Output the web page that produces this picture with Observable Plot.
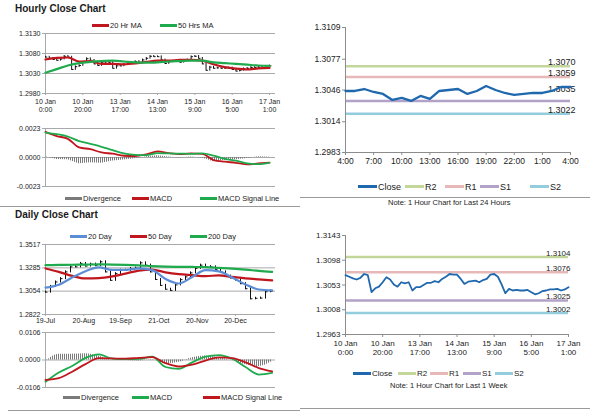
<!DOCTYPE html>
<html>
<head>
<meta charset="utf-8">
<script src="https://cdn.jsdelivr.net/npm/d3@7"></script>
<script src="https://cdn.jsdelivr.net/npm/@observablehq/plot@0.6"></script>
<style>
html,body{margin:0;padding:0;background:#fff;}
#root{position:relative;width:600px;height:413px;overflow:hidden;font-family:Arial,"Liberation Sans",sans-serif;color:#222;background:#fff;}
.t{position:absolute;white-space:nowrap;}
.title{font-weight:bold;font-size:10px;color:#1a1a1a;}
.note{font-size:7.5px;color:#222;}
.sep{position:absolute;height:1px;background:#9a9a9a;}
.li{position:absolute;display:flex;align-items:center;white-space:nowrap;color:#222;}
.li span{display:inline-block;margin-right:1px;}
</style>
</head>
<body>
<svg width="0" height="0" style="position:absolute"><defs>
<pattern id="hatch" patternUnits="userSpaceOnUse" width="2" height="4"><rect x="0" y="0" width="1" height="4" fill="#7a7a7a"/></pattern>
</defs></svg>
<div id="root"></div>
<script>
// ---------------- DATA ----------------
// hourly (last week), one value every 2 hours, index 0..120
const hourTickIdx = [0, 20, 40, 60, 80, 100, 120];
const hourTickLabels = ["10 Jan\n0:00", "10 Jan\n20:00", "13 Jan\n17:00", "14 Jan\n13:00", "15 Jan\n9:00", "16 Jan\n5:00", "17 Jan\n1:00"];
const weekClose = [1.3071,1.3068,1.3065,1.3063,1.3066,1.3073,1.3071,1.3040,1.3047,1.3050,
  1.3058,1.3067,1.3063,1.3054,1.3050,1.3058,1.3056,1.3058,1.3043,1.3049,
  1.3049,1.3053,1.3057,1.3057,1.3060,1.3058,1.3064,1.3068,1.3073,1.3072,
  1.3072,1.3064,1.3055,1.3059,1.3060,1.3061,1.3058,1.3062,1.3064,1.3072,
  1.3073,1.3068,1.3054,1.3038,1.3046,1.3043,1.3044,1.3043,1.3043,1.3044,
  1.3040,1.3036,1.3038,1.3042,1.3043,1.3045,1.3045,1.3046,1.3043,1.3045,1.3049];
// hourly indicators, one value every 6 hours
const ma20Hr = [1.3065,1.3069,1.3070,1.3060,1.3061,1.3054,1.3054,1.3053,1.3055,1.3059,1.3062,1.3062,1.3064,1.3064,1.3062,1.3053,1.3046,1.3042,1.3040,1.3043,1.3044];
const ma50Hr = [1.3032,1.3041,1.3050,1.3056,1.3059,1.3061,1.3062,1.3060,1.3058,1.3057,1.3058,1.3060,1.3061,1.3062,1.3062,1.3058,1.3056,1.3054,1.3052,1.3050,1.3049];
const macdHr = [0.00203,0.00170,0.00148,0.00080,0.00066,0.00040,0.00030,0.00014,0.00012,0.00025,0.00048,0.00035,0.00027,0.00032,0.00028,-0.00020,-0.00033,-0.00042,-0.00054,-0.00047,-0.00040];
const signalHr = [0.00198,0.00185,0.00166,0.00130,0.00108,0.00085,0.00058,0.00033,0.00021,0.00019,0.00035,0.00032,0.00031,0.00029,0.00032,0.00014,-0.00010,-0.00025,-0.00046,-0.00053,-0.00042];
const hrPriceTicks = [1.2980, 1.3030, 1.3080, 1.3130];
const hrMacdTicks = [-0.0023, 0, 0.0023];

// daily, close every 3 trading days, indicators every 8 trading days
const dayTickIdx = [0, 23, 45, 68, 91, 114];
const dayTickLabels = ["19-Jul", "20-Aug", "19-Sep", "21-Oct", "20-Nov", "20-Dec"];
const dailyClose = [1.3044,1.3101,1.3145,1.3178,1.3245,1.3295,1.3295,1.3329,1.3303,1.3322,
  1.3307,1.3345,1.3245,1.3161,1.3228,1.3262,1.3260,1.3279,1.3283,1.3335,
  1.3312,1.3245,1.3170,1.3111,1.3073,1.3061,1.3116,1.3168,1.3195,1.3235,
  1.3280,1.3312,1.3298,1.3295,1.3270,1.3245,1.3203,1.3185,1.3165,1.3128,
  1.3078,1.2978,1.2983,1.2985,1.3048,1.3054];
const ma20Day = [1.3088,1.3118,1.3190,1.3252,1.3290,1.3265,1.3265,1.3279,1.3262,1.3175,1.3130,1.3195,1.3262,1.3250,1.3190,1.3120,1.3070,1.3061];
const ma50Day = [1.3279,1.3245,1.3205,1.3180,1.3183,1.3200,1.3228,1.3258,1.3268,1.3240,1.3222,1.3212,1.3203,1.3210,1.3195,1.3180,1.3170,1.3161];
const ma200Day = [1.3312,1.3314,1.3316,1.3318,1.3319,1.3318,1.3315,1.3310,1.3302,1.3297,1.3295,1.3294,1.3292,1.3285,1.3278,1.3268,1.3255,1.3245];
const macdDay = [-0.0084,-0.0048,-0.0023,0.0008,0.0022,0.0005,0.0003,0.0004,0.0013,-0.0027,-0.0034,-0.0009,0.0013,0.0019,0.0005,-0.0027,-0.0056,-0.0050];
const signalDay = [-0.0077,-0.0070,-0.0045,-0.0016,0.0007,0.0006,0.0005,0.0008,0.0011,-0.0012,-0.0025,-0.0018,-0.0002,0.0010,0.0007,-0.0009,-0.0031,-0.0044];
const dayPriceTicks = [1.2822, 1.3054, 1.3285, 1.3517];
const dayMacdTicks = [-0.0106, 0, 0.0106];

// last 24 hours
const last24TickIdx = [0, 3, 6, 9, 12, 15, 18, 21, 24];
const last24Labels = ["4:00", "7:00", "10:00", "13:00", "16:00", "19:00", "22:00", "1:00", "4:00"];
const last24Close = [1.3045,1.3045,1.3047,1.3044,1.3042,1.3036,1.3038,1.3035,1.3040,1.3037,1.3045,1.3046,1.3047,1.3042,1.3045,1.3050,1.3046,1.3043,1.3041,1.3042,1.3043,1.3043,1.3045,1.3049,1.3049];
const last24Ticks = [1.2983, 1.3014, 1.3046, 1.3077, 1.3109];
const weekTicks = [1.2963, 1.3008, 1.3053, 1.3098, 1.3143];

const levelNames = ["R2", "R1", "S1", "S2"];
const levelColors = ["#C4D79B", "#E6B9B8", "#B3A2C7", "#93CDDD"];
const levels24 = [1.3070, 1.3059, 1.3035, 1.3022];
const levelsWeek = [1.3104, 1.3076, 1.3025, 1.3002];

// ---------------- HELPERS ----------------
const root = document.getElementById("root");
const RED = "#C0161D", GREEN = "#1FAA4E", BLUE20 = "#5B8ED6", CLOSE = "#1F68AE", GRID = "#a9a9a9", AX = "#8c8c8c";
const FONT = "Arial, 'Liberation Sans', sans-serif";
const st = fs => ({fontFamily: FONT, fontSize: fs + "px", color: "#222", background: "transparent", overflow: "visible"});
function place(el, left, top) { el.style.position = "absolute"; el.style.left = left + "px"; el.style.top = top + "px"; root.appendChild(el); }
function label(str, left, top, cls, css) { const d = document.createElement("div"); d.className = "t " + cls; d.textContent = str; d.style.left = left + "px"; d.style.top = top + "px"; if (css) d.style.cssText += css; root.appendChild(d); }
function sep(x1, x2, y) { const d = document.createElement("div"); d.className = "sep"; d.style.left = x1 + "px"; d.style.width = (x2 - x1) + "px"; d.style.top = y + "px"; root.appendChild(d); }
function legend(labels, colors, lefts, cy, fs, sw, sh) {
  labels.forEach((lab, k) => {
    const d = document.createElement("div"); d.className = "li";
    d.style.left = lefts[k] + "px"; d.style.top = (cy - fs * 0.6) + "px"; d.style.height = (fs * 1.2) + "px"; d.style.fontSize = fs + "px";
    const s = document.createElement("span"); s.style.width = sw + "px"; s.style.height = sh + "px"; s.style.background = colors[k];
    d.appendChild(s); d.appendChild(document.createTextNode(lab)); root.appendChild(d);
  });
}

const hourBars = weekClose.map((c, k) => ({i: k * 2, c, prev: k ? weekClose[k - 1] : c}));
const hourInd = ma20Hr.map((v, k) => ({i: k * 6, ma20: v, ma50: ma50Hr[k], macd: macdHr[k], sig: signalHr[k]}));
const dayBars = dailyClose.map((c, k) => ({i: k * 3, c, prev: k ? dailyClose[k - 1] : c}));
const dayInd = ma20Day.map((v, k) => ({i: k * 8, ma20: v, ma50: ma50Day[k], ma200: ma200Day[k], macd: macdDay[k], sig: signalDay[k]}));
const f4 = d => d.toFixed(4);

// ---------------- TITLES / SEPARATORS ----------------
label("Hourly Close Chart", 15, 3, "title");
label("Daily Close Chart", 15, 209, "title");
sep(0, 300, 206);
sep(8, 300, 410);
sep(300, 590, 197);
sep(300, 590, 408);

// ---------------- A: hourly close ----------------
legend(["20 Hr MA", "50 Hrs MA"], [RED, GREEN], [92, 160], 25, 7.5, 17, 3);
place(Plot.plot({
  width: 290, height: 90, marginLeft: 45, marginRight: 15, marginTop: 5, marginBottom: 25,
  x: {domain: [0, 123.2]}, y: {domain: [1.2980, 1.3130]}, style: st(7),
  marks: [
    Plot.ruleY(hrPriceTicks, {stroke: GRID}),
    Plot.ruleX([0], {stroke: GRID}),
    Plot.axisY({ticks: hrPriceTicks, tickFormat: f4, tickSize: 3, tickPadding: 2, stroke: GRID, label: null}),
    Plot.axisX({ticks: hourTickIdx, tickFormat: d => hourTickLabels[hourTickIdx.indexOf(d)], tickSize: 2, tickPadding: 2, lineHeight: 1.25, stroke: GRID, label: null}),
    Plot.ruleX(hourBars, {x: "i", y1: d => Math.min(d.c, d.prev) - 0.0002, y2: d => Math.max(d.c, d.prev) + 0.0002, stroke: "#111", strokeWidth: 1}),
    Plot.link(hourBars, {x1: "i", x2: d => d.i + 1, y1: "c", y2: "c", stroke: "#111"}),
    Plot.line(hourInd, {x: "i", y: "ma20", stroke: RED, strokeWidth: 2.2, curve: "monotone-x"}),
    Plot.line(hourInd, {x: "i", y: "ma50", stroke: GREEN, strokeWidth: 2.2, curve: "monotone-x"})
  ]
}), 0, 28);

// ---------------- B: hourly MACD ----------------
legend(["Divergence", "MACD", "MACD Signal Line"], ["#7a7a7a", RED, GREEN], [65, 132, 200], 198, 7.5, 17, 3);
place(Plot.plot({
  width: 290, height: 90, marginLeft: 45, marginRight: 15, marginTop: 5, marginBottom: 27,
  x: {domain: [0, 123.2], axis: null}, y: {domain: [-0.0023, 0.0023]}, style: st(7),
  marks: [
    Plot.ruleY(hrMacdTicks, {stroke: GRID}),
    Plot.ruleX([0], {stroke: GRID}),
    Plot.axisY({ticks: hrMacdTicks, tickFormat: f4, tickSize: 3, tickPadding: 2, stroke: GRID, label: null}),
    Plot.areaY(hourInd, {x: "i", y: d => d.macd - d.sig, fill: "url(#hatch)"}),
    Plot.line(hourInd, {x: "i", y: "macd", stroke: RED, strokeWidth: 1.8, curve: "monotone-x"}),
    Plot.line(hourInd, {x: "i", y: "sig", stroke: GREEN, strokeWidth: 1.8, curve: "monotone-x"})
  ]
}), 0, 123);

// ---------------- C: daily close ----------------
legend(["20 Day", "50 Day", "200 Day"], [BLUE20, RED, GREEN], [70, 130, 190], 236, 7.5, 17, 3);
place(Plot.plot({
  width: 290, height: 91, marginLeft: 45, marginRight: 15, marginTop: 5, marginBottom: 16,
  x: {domain: [0, 138]}, y: {domain: [1.2822, 1.3517]}, style: st(7),
  marks: [
    Plot.ruleY(dayPriceTicks, {stroke: GRID}),
    Plot.ruleX([0], {stroke: GRID}),
    Plot.axisY({ticks: dayPriceTicks, tickFormat: f4, tickSize: 3, tickPadding: 2, stroke: GRID, label: null}),
    Plot.axisX({ticks: dayTickIdx, tickFormat: d => dayTickLabels[dayTickIdx.indexOf(d)], tickSize: 2, tickPadding: 2, stroke: GRID, label: null}),
    Plot.ruleX(dayBars, {x: "i", y1: d => Math.min(d.c, d.prev) - 0.0010, y2: d => Math.max(d.c, d.prev) + 0.0010, stroke: "#111", strokeWidth: 1}),
    Plot.link(dayBars, {x1: "i", x2: d => d.i + 1.2, y1: "c", y2: "c", stroke: "#111"}),
    Plot.line(dayInd, {x: "i", y: "ma200", stroke: GREEN, strokeWidth: 2.2, curve: "monotone-x"}),
    Plot.line(dayInd, {x: "i", y: "ma50", stroke: RED, strokeWidth: 2.2, curve: "monotone-x"}),
    Plot.line(dayInd, {x: "i", y: "ma20", stroke: BLUE20, strokeWidth: 2.2, curve: "monotone-x"})
  ]
}), 0, 239);

// ---------------- D: daily MACD ----------------
legend(["Divergence", "MACD", "MACD Signal Line"], ["#7a7a7a", GREEN, RED], [63, 132, 203], 397, 7.5, 17, 3);
place(Plot.plot({
  width: 290, height: 70, marginLeft: 45, marginRight: 15, marginTop: 5, marginBottom: 10,
  x: {domain: [0, 138], axis: null}, y: {domain: [-0.0106, 0.0106]}, style: st(7),
  marks: [
    Plot.ruleY(dayMacdTicks, {stroke: GRID}),
    Plot.ruleX([0], {stroke: GRID}),
    Plot.axisY({ticks: dayMacdTicks, tickFormat: f4, tickSize: 3, tickPadding: 2, stroke: GRID, label: null}),
    Plot.areaY(dayInd, {x: "i", y: d => d.macd - d.sig, fill: "url(#hatch)", curve: "monotone-x"}),
    Plot.line(dayInd, {x: "i", y: "macd", stroke: GREEN, strokeWidth: 1.8, curve: "monotone-x"}),
    Plot.line(dayInd, {x: "i", y: "sig", stroke: RED, strokeWidth: 1.8, curve: "monotone-x"})
  ]
}), 0, 327);

// ---------------- E: last 24 hours ----------------
const lv24 = levelNames.map((n, k) => ({n, v: levels24[k], c: levelColors[k]}));
const c24 = last24Close.map((v, i) => ({i, v}));
place(Plot.plot({
  width: 290, height: 150, marginLeft: 45, marginRight: 20, marginTop: 7, marginBottom: 18,
  x: {domain: [0, 24]}, y: {domain: [1.2983, 1.3109]}, color: {type: "identity"}, style: st(8.5),
  marks: [
    Plot.ruleY(lv24, {y: "v", stroke: "c", strokeWidth: 2.5}),
    Plot.ruleX([0], {stroke: AX}),
    Plot.ruleY([1.2983], {stroke: AX}),
    Plot.axisY({ticks: last24Ticks, tickFormat: f4, tickSize: 3, tickPadding: 2, stroke: AX, label: null}),
    Plot.axisX({ticks: last24TickIdx, tickFormat: (d, i) => last24Labels[i], tickSize: 3, tickPadding: 2, stroke: AX, label: null}),
    Plot.text(lv24.filter(d => d.n !== "S1"), {y: "v", frameAnchor: "right", text: d => f4(d.v), textAnchor: "end", lineAnchor: "bottom", dx: 5, dy: -1, fontSize: 9}),
    Plot.text(lv24.filter(d => d.n === "S1"), {y: "v", frameAnchor: "right", text: d => f4(d.v), textAnchor: "end", lineAnchor: "bottom", dx: 5, dy: -9, fontSize: 9}),
    Plot.line(c24, {x: "i", y: "v", stroke: CLOSE, strokeWidth: 2.3})
  ]
}), 300, 20);
legend(["Close"].concat(levelNames), [CLOSE].concat(levelColors), [358, 405, 445, 480, 530], 187, 9, 19, 3);
label("Note: 1 Hour Chart for Last 24 Hours", 388, 198, "note");

// ---------------- F: last week ----------------
const lvW = levelNames.map((n, k) => ({n, v: levelsWeek[k], c: levelColors[k]}));
place(Plot.plot({
  width: 290, height: 131, marginLeft: 45, marginRight: 22, marginTop: 7, marginBottom: 25,
  x: {domain: [0, 120]}, y: {domain: [1.2963, 1.3143]}, color: {type: "identity"}, style: st(8),
  marks: [
    Plot.ruleY(lvW, {y: "v", stroke: "c", strokeWidth: 2.5}),
    Plot.ruleX([0], {stroke: AX}),
    Plot.ruleY([1.2963], {stroke: AX}),
    Plot.axisY({ticks: weekTicks, tickFormat: f4, tickSize: 3, tickPadding: 2, stroke: AX, label: null}),
    Plot.axisX({ticks: hourTickIdx, tickFormat: d => hourTickLabels[hourTickIdx.indexOf(d)], tickSize: 3, tickPadding: 2, lineHeight: 1.15, stroke: AX, label: null}),
    Plot.text(lvW, {y: "v", frameAnchor: "right", text: d => f4(d.v), textAnchor: "end", lineAnchor: "bottom", dx: 2, dy: -1, fontSize: 8}),
    Plot.line(hourBars, {x: "i", y: "c", stroke: CLOSE, strokeWidth: 1.8})
  ]
}), 300, 228);
legend(["Close"].concat(levelNames), [CLOSE].concat(levelColors), [353, 398, 430, 463, 495], 374, 8, 18, 3);
label("Note: 1 Hour Chart for  Last 1 Week", 390, 381, "note");
</script>
</body>
</html>
